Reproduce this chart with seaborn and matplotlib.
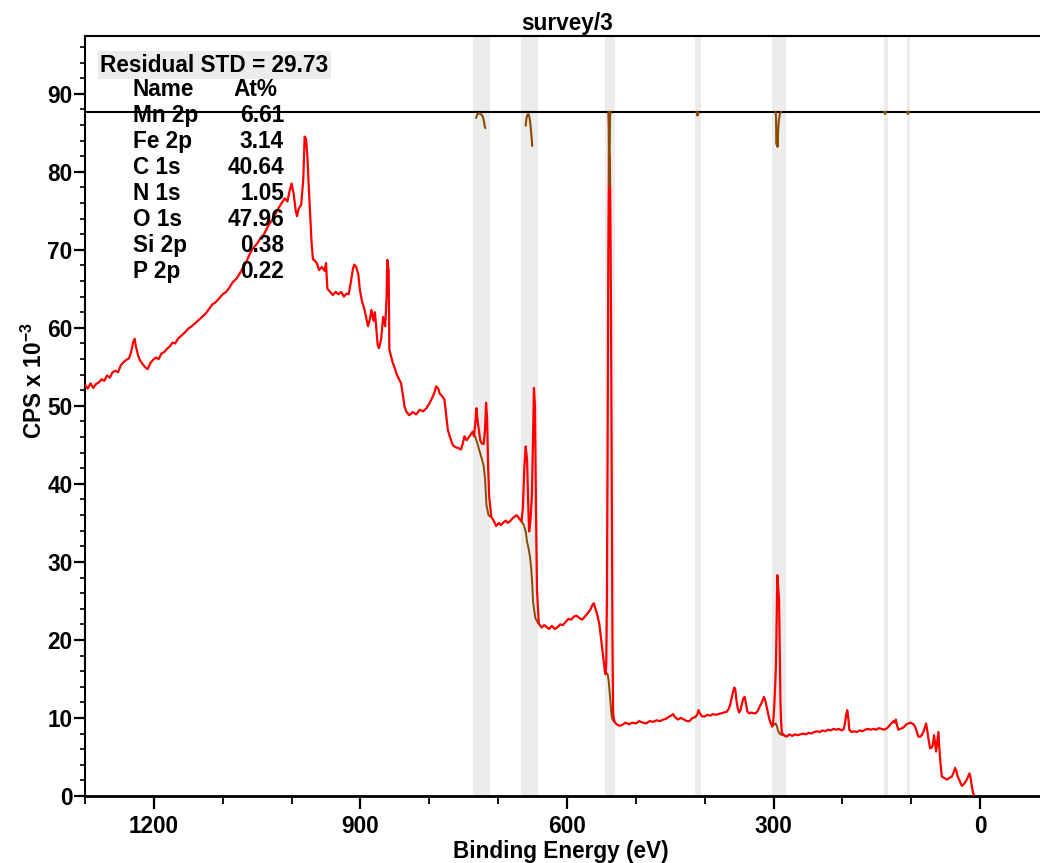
import matplotlib
matplotlib.use("Agg")
import matplotlib.pyplot as plt
from matplotlib.ticker import MultipleLocator, FixedLocator
import seaborn as sns
import pandas as pd

# ---------------- data ----------------
# survey spectrum: binding energy (eV) and counts (CPS x 10^-3)
binding_energy = [
    1300, 1296, 1292, 1288, 1284, 1280, 1276, 1272, 1268, 1264, 1260, 1256, 1252, 1248, 1244, 1240,
    1236, 1233, 1230, 1228, 1226, 1223, 1220, 1216, 1212, 1209, 1205, 1201, 1197, 1193, 1189, 1185,
    1181, 1177, 1173, 1169, 1165, 1160, 1155, 1150, 1145, 1140, 1135, 1130, 1125, 1120, 1115, 1110,
    1105, 1100, 1095, 1090, 1085, 1080, 1075, 1070, 1065, 1060, 1055, 1050, 1045, 1040, 1035, 1030,
    1025, 1020, 1015, 1010, 1006, 1003, 1000, 997, 994, 992, 990, 986, 983, 981, 979, 977, 975, 973,
    971, 969, 966, 963, 960, 956, 952, 950, 948, 944, 940, 936, 932, 928, 924, 920, 917, 914, 911,
    909, 906, 903, 901, 898, 894, 891, 889, 886, 884, 881, 879, 877, 875, 873, 870, 867, 864, 862,
    861, 859, 858, 855, 853, 850, 848, 845, 841, 838, 836, 833, 829, 824, 819, 814, 809, 804, 800,
    797, 793, 790, 787, 785, 781, 778, 775, 773, 770, 766, 762, 758, 754, 751, 749, 746, 744, 740,
    737, 735, 733, 731.5, 730, 728, 726, 724, 721, 719, 717.5, 716, 714.5, 713, 710, 706, 703, 699,
    696, 693, 689, 686, 683, 679, 676, 673, 669, 666, 664, 662, 660, 658, 656.5, 655, 653, 651,
    649.5, 648, 646.5, 645, 643.6, 641, 637, 633, 630, 626, 622, 618, 614, 610, 606, 602, 598, 594,
    590, 586, 582, 578, 574, 570, 566, 563, 561, 558, 556, 553, 551, 549, 547, 545, 544, 543, 542,
    541, 540, 539, 538, 537, 536, 535, 534, 533, 531, 528, 524, 520, 515, 510, 505, 500, 495, 490,
    485, 480, 475, 470, 465, 460, 456, 453, 449, 446, 443, 439, 435, 430, 426, 422, 418, 414, 411,
    409, 407, 404, 400, 396, 392, 388, 384, 380, 376, 372, 368, 365, 363, 361, 359, 357, 355.5, 354,
    352, 350, 348, 346.5, 344, 342, 340, 338, 335, 332, 329, 326, 323, 320, 317, 314, 312, 310, 308,
    306, 304, 302, 300.5, 299, 297.5, 296.5, 295.5, 294.5, 293.5, 292, 291, 290, 289, 288, 285, 281,
    277, 273, 269, 265, 261, 257, 253, 249, 245, 241, 237, 233, 229, 225, 221, 217, 213, 209, 205,
    201, 198, 196, 194.5, 193, 191.5, 190, 187, 183, 179, 175, 171, 167, 163, 159, 155, 151, 147,
    143, 139, 135, 131, 128, 126, 124, 122.5, 120.5, 119, 116, 113, 110, 107, 104, 101, 99, 97,
    94.5, 92, 89.7, 87, 84.8, 82, 80, 78.5, 77, 75.2, 72.7, 70.5, 68.8, 66.9, 65.5, 64, 62, 60.6,
    59.5, 58, 56.5, 55.7, 52, 48.4, 45, 41.1, 38.5, 36.3, 34.5, 33, 31.5, 29, 26.6, 23, 19.3, 17.5,
    15.5, 14, 12, 10.5, 8.7,
]
counts = [
    52.7, 52.2, 52.9, 52.3, 52.8, 53.0, 53.4, 53.2, 53.9, 53.6, 54.3, 54.5, 54.3, 55.2, 55.6, 55.9,
    56.1, 56.9, 58.2, 58.6, 57.6, 56.5, 55.8, 55.3, 54.9, 54.7, 55.5, 55.9, 56.2, 56.0, 56.7, 56.9,
    57.3, 57.6, 58.1, 58.0, 58.6, 59.0, 59.4, 59.9, 60.2, 60.6, 61.0, 61.4, 61.8, 62.4, 63.0, 63.3,
    63.8, 64.3, 64.6, 65.2, 65.9, 66.3, 67.0, 67.8, 68.6, 69.6, 70.3, 70.8, 71.5, 72.0, 72.9, 73.6,
    74.3, 75.2, 75.9, 76.6, 76.2, 77.5, 78.5, 77.2, 75.0, 74.3, 75.2, 75.8, 79.0, 84.5, 84.2, 82.0,
    78.0, 74.5, 71.0, 68.8, 68.6, 68.2, 67.4, 67.8, 67.3, 68.3, 65.0, 64.6, 64.2, 64.6, 64.3, 64.6,
    64.0, 64.4, 64.3, 65.8, 67.5, 68.1, 67.8, 66.8, 65.0, 63.5, 62.3, 61.0, 60.2, 61.2, 62.3, 60.9,
    62.0, 60.0, 57.8, 57.4, 58.5, 61.4, 60.2, 64.0, 68.7, 67.4, 57.2, 56.2, 55.5, 54.8, 54.2, 53.6,
    52.9, 51.2, 49.9, 49.2, 48.8, 49.2, 48.9, 49.5, 49.3, 49.7, 50.3, 50.8, 51.6, 52.5, 52.2, 51.6,
    51.2, 50.8, 48.5, 46.9, 46.0, 45.0, 44.7, 44.6, 44.4, 45.3, 46.1, 45.6, 45.8, 46.3, 46.7, 46.1,
    48.0, 49.7, 48.2, 46.9, 45.6, 45.2, 45.1, 47.0, 50.4, 48.2, 42.0, 38.4, 35.8, 35.2, 34.6, 35.0,
    34.7, 35.0, 35.3, 35.0, 35.2, 35.6, 35.8, 36.0, 35.5, 35.2, 37.0, 42.0, 44.8, 43.1, 38.0, 33.9,
    35.4, 38.5, 45.0, 52.3, 49.9, 36.2, 26.4, 22.1, 21.6, 21.9, 21.7, 21.4, 21.8, 21.4, 21.6, 22.0,
    21.9, 22.3, 22.7, 22.6, 23.0, 23.1, 22.8, 22.6, 23.0, 23.4, 23.9, 24.5, 24.7, 23.8, 23.2, 22.0,
    20.5, 19.0, 17.5, 16.0, 15.6, 17.0, 25.0, 45.0, 70.0, 82.5, 82.0, 75.0, 60.0, 40.0, 20.0, 10.5,
    9.5, 9.2, 9.0, 9.1, 9.4, 9.2, 9.4, 9.3, 9.6, 9.4, 9.3, 9.6, 9.5, 9.7, 9.6, 9.8, 9.9, 10.1, 10.3,
    10.5, 10.1, 9.8, 10.0, 9.8, 9.6, 9.6, 10.0, 10.1, 10.4, 11.0, 10.6, 10.2, 10.2, 10.4, 10.3, 10.5,
    10.4, 10.5, 10.6, 10.7, 10.8, 11.2, 11.7, 12.5, 13.3, 13.9, 13.6, 12.3, 11.2, 10.7, 11.0, 11.6,
    12.5, 12.7, 11.8, 10.8, 10.6, 10.7, 10.6, 10.6, 10.9, 11.5, 12.0, 12.7, 12.2, 11.4, 10.6, 9.8,
    9.3, 8.9, 9.5, 11.5, 14.5, 17.0, 23.0, 28.3, 27.0, 25.0, 18.0, 12.0, 9.5, 8.1, 7.8, 7.6, 7.9,
    7.7, 7.9, 7.8, 7.9, 8.0, 7.9, 8.1, 8.0, 8.2, 8.3, 8.2, 8.4, 8.3, 8.5, 8.4, 8.6, 8.5, 8.6, 8.4,
    8.6, 9.5, 10.5, 11.0, 10.0, 8.5, 8.2, 8.3, 8.2, 8.4, 8.3, 8.5, 8.6, 8.5, 8.6, 8.5, 8.7, 8.6, 8.5,
    8.7, 9.1, 9.4, 9.6, 9.4, 9.8, 9.0, 8.5, 8.6, 8.7, 8.9, 9.2, 9.3, 9.4, 9.3, 9.2, 8.9, 8.2, 7.6,
    7.6, 7.8, 8.3, 8.9, 9.3, 8.5, 7.4, 6.1, 6.2, 6.5, 7.8, 6.8, 5.7, 7.2, 8.2, 6.5, 4.6, 3.3, 2.5,
    2.3, 2.1, 2.3, 2.5, 3.0, 3.6, 3.2, 2.6, 2.3, 1.8, 1.3, 1.6, 2.1, 2.5, 2.9, 2.4, 1.2, 0.5, 0.0,
]

# quantification regions (eV, high -> low)
region_names = ["Fe 2p", "Mn 2p", "O 1s", "N 1s", "C 1s", "P 2p", "Si 2p"]
region_start = [736.7, 666.6, 545.2, 413.8, 301.7, 140.2, 106.3]
region_end = [711.5, 641.5, 531.0, 405.0, 282.5, 134.2, 101.9]

# backgrounds under the main regions
bg_fe_be = [736.7, 733, 729.5, 727, 724, 721, 719, 717, 714, 711.5]
bg_fe_cps = [46.5, 46.0, 45.0, 44.2, 43.3, 42.3, 40.6, 37.3, 36.0, 35.8]
bg_mn_be = [666.5, 663, 660, 658, 656, 654, 652, 650.5, 649.3, 646, 641.5]
bg_mn_cps = [35.2, 34.8, 33.9, 32.6, 31.8, 30.8, 29.2, 27.2, 24.9, 22.8, 22.1]
bg_o_be = [545, 541, 539.5, 538, 537, 535.5, 534, 531]
bg_o_cps = [16.0, 15.6, 14.8, 13.2, 12.3, 10.5, 9.8, 9.5]
bg_c_be = [301.7, 297, 295, 293.5, 292, 290, 282.5]
bg_c_cps = [9.0, 9.3, 8.9, 8.4, 8.1, 7.9, 7.7]

# residual trace (plotted about its zero line)
residual_zero = 87.7
res_fe_be = [732, 730, 727, 724, 722, 720.5, 719.5, 718.5]
res_fe = [86.9, 87.4, 87.5, 87.3, 87.0, 86.4, 85.8, 85.6]
res_mn_be = [660, 659, 657.5, 656, 654.5, 653, 651.5, 650.5]
res_mn = [85.9, 86.8, 87.3, 87.4, 87.0, 86.0, 84.5, 83.3]
res_o_be = [540, 539.5, 539, 538.5, 538, 537.5, 537]
res_o = [87.7, 86.0, 80.0, 78.2, 83.0, 87.0, 87.7]
res_n_be = [412, 410.5, 409]
res_n = [87.7, 87.2, 87.6]
res_c_be = [297, 296.5, 296, 295.5, 295, 294.3, 293.5, 292.5, 291, 289]
res_c = [87.7, 87.0, 84.5, 83.5, 84.8, 83.2, 85.0, 86.5, 87.4, 87.7]
res_p_be = [139.5, 138, 136.5]
res_p = [87.7, 87.4, 87.7]
res_si_be = [106, 105, 104]
res_si = [87.7, 87.4, 87.7]

# quantification table
table_names = ["Mn 2p", "Fe 2p", "C 1s", "N 1s", "O 1s", "Si 2p", "P 2p"]
table_at = ["6.61", "3.14", "40.64", "1.05", "47.96", "0.38", "0.22"]
residual_std = "29.73"

x_major = [1200, 900, 600, 300, 0]
x_minor = [1300, 1100, 1000, 800, 700, 500, 400, 200, 100, -100]

# ---------------- style ----------------
sns.set_theme(style="ticks")
plt.rcParams["font.family"] = ["Liberation Sans", "DejaVu Sans"]
plt.rcParams["font.weight"] = "bold"
plt.rcParams["axes.labelweight"] = "bold"
plt.rcParams["axes.titleweight"] = "bold"
plt.rcParams["text.color"] = "black"
plt.rcParams["axes.labelcolor"] = "black"
plt.rcParams["xtick.color"] = "black"
plt.rcParams["ytick.color"] = "black"
plt.rcParams["mathtext.fontset"] = "custom"
plt.rcParams["mathtext.bf"] = "Liberation Sans:bold"
plt.rcParams["mathtext.rm"] = "Liberation Sans:bold"
plt.rcParams["mathtext.default"] = "bf"

W, H = 1040, 863
FS = 16.3
RED = "#ff0000"
BROWN = "#8c4a00"
BAND = "#ececec"

fig = plt.figure(figsize=(W / 100, H / 100), dpi=100)
ax = fig.add_axes([85 / W, 67 / H, 964 / W, 760 / H])

# region bands
for s, e in zip(region_start, region_end):
    ax.axvspan(e, s, color=BAND, lw=0, zorder=0)

# backgrounds
for bx, by in [(bg_fe_be, bg_fe_cps), (bg_mn_be, bg_mn_cps),
               (bg_o_be, bg_o_cps), (bg_c_be, bg_c_cps)]:
    sns.lineplot(x=bx, y=by, color=BROWN, lw=1.4, ax=ax, estimator=None,
                 sort=False, zorder=2)

# spectrum
spec = pd.DataFrame({"BE": binding_energy, "CPS": counts})
sns.lineplot(data=spec, x="BE", y="CPS", color=RED, lw=1.6, ax=ax,
             estimator=None, sort=False, zorder=3)

# residual panel
ax.axhline(residual_zero, color="black", lw=1.5, zorder=4)
for rx, ry in [(res_fe_be, res_fe), (res_mn_be, res_mn), (res_o_be, res_o),
               (res_n_be, res_n), (res_c_be, res_c), (res_p_be, res_p),
               (res_si_be, res_si)]:
    sns.lineplot(x=rx, y=ry, color=BROWN, lw=1.5, ax=ax, estimator=None,
                 sort=False, zorder=5)

# axes
ax.set_xlim(1300, -100)
ax.set_ylim(0, 97.4)
ax.xaxis.set_major_locator(FixedLocator(x_major))
ax.xaxis.set_minor_locator(FixedLocator(x_minor))
ax.yaxis.set_major_locator(MultipleLocator(10))
ax.yaxis.set_minor_locator(MultipleLocator(2))
ax.tick_params(axis="x", which="major", direction="out", length=9.4, width=1.6,
               labelsize=FS, pad=4, colors="black")
ax.tick_params(axis="x", which="minor", direction="out", length=5.8, width=1.3,
               colors="black")
ax.tick_params(axis="y", which="major", direction="out", length=8, width=1.6,
               labelsize=FS, pad=1, colors="black")
ax.tick_params(axis="y", which="minor", direction="out", length=3.6, width=1.2,
               colors="black")
for lab in ax.get_xticklabels() + ax.get_yticklabels():
    lab.set_fontweight("bold")

for side in ["left", "top", "right"]:
    ax.spines[side].set_linewidth(1.5)
    ax.spines[side].set_color("black")
ax.spines["bottom"].set_linewidth(2.0)
ax.spines["bottom"].set_color("black")

ax.set_xlabel("Binding Energy (eV)", fontsize=FS, fontweight="bold")
ax.set_ylabel(r"CPS x 10$^{-3}$", fontsize=FS, fontweight="bold")
ax.xaxis.set_label_coords(0.494, -0.058)
ax.yaxis.set_label_coords(-0.040, 0.547)
ax.set_title("survey/3", fontsize=FS, fontweight="bold", pad=4)


def fx(px):
    return px / W


def fy(py):
    return 1 - py / H


# quantification table
fig.text(fx(100), fy(65), f"Residual STD = {residual_std}", fontsize=FS,
         fontweight="bold", va="center", ha="left", zorder=10,
         bbox=dict(boxstyle="square,pad=0.1", facecolor=BAND, edgecolor="none"))
row0, step = 89, 26.1
fig.text(fx(133), fy(row0), "Name", fontsize=FS, fontweight="bold",
         va="center", ha="left", zorder=10)
fig.text(fx(233), fy(row0), "At%", fontsize=FS, fontweight="bold",
         va="center", ha="left", zorder=10)
for i, (n, v) in enumerate(zip(table_names, table_at)):
    y = row0 + step * (i + 1)
    fig.text(fx(133), fy(y), n, fontsize=FS, fontweight="bold",
             va="center", ha="left", zorder=10)
    fig.text(fx(284), fy(y), v, fontsize=FS, fontweight="bold",
             va="center", ha="right", zorder=10)

fig.savefig("out.png", dpi=100)
